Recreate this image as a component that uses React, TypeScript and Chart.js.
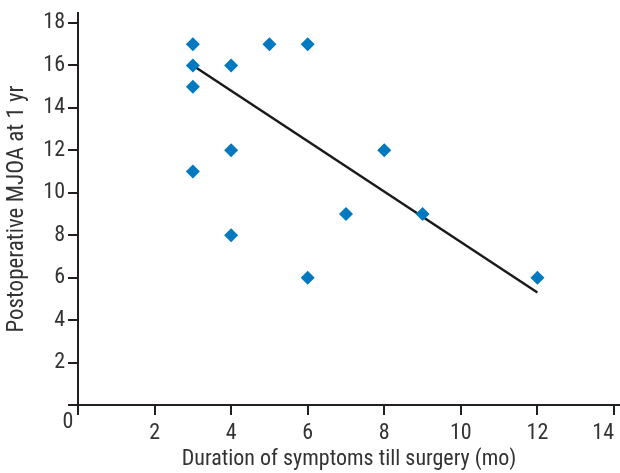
import React, { useEffect, useRef } from "react";
import { Chart, registerables } from "chart.js";

Chart.register(...registerables);

// Data
const durationMonths = [3, 3, 3, 3, 4, 4, 4, 5, 6, 6, 7, 8, 9, 12];
const mjoaOneYear = [17, 16, 15, 11, 16, 12, 8, 17, 17, 6, 9, 12, 9, 6];
const trendX = [3, 12];
const trendY = [16, 5.3];
const xTickValues = [0, 2, 4, 6, 8, 10, 12, 14];
const yTickValues = [0, 2, 4, 6, 8, 10, 12, 14, 16, 18];
const xTitle = "Duration of symptoms till surgery (mo)";
const yTitle = "Postoperative MJOA at 1 yr";

const FONT_FAMILY = '"Roboto Condensed", "Liberation Sans Narrow", "Arial Narrow", "DejaVu Sans Condensed", sans-serif';
const INK = "#231f20";
const TEXT = "#333333";
const POINT_BLUE = "#0079c1";

const originLabelPlugin = {
  id: "originLabel",
  afterDraw(chart: any) {
    const { ctx, scales } = chart;
    const x = scales.x.getPixelForValue(0);
    const y = scales.y.getPixelForValue(0);
    ctx.save();
    ctx.font = `22px ${FONT_FAMILY}`;
    ctx.fillStyle = TEXT;
    ctx.textAlign = "center";
    ctx.textBaseline = "middle";
    ctx.fillText("0", x - 10, y + 17);
    ctx.restore();
  },
};

export default function App() {
  const canvasRef = useRef<HTMLCanvasElement | null>(null);

  useEffect(() => {
    document.body.style.margin = "0";
    const canvas = canvasRef.current;
    if (!canvas) return;

    const scatterData = durationMonths.map((d, i) => ({ x: d, y: mjoaOneYear[i] }));
    const trendData = trendX.map((d, i) => ({ x: d, y: trendY[i] }));

    const chart = new Chart(canvas, {
      type: "scatter",
      data: {
        datasets: [
          {
            type: "scatter",
            data: scatterData,
            pointStyle: "rectRot",
            pointRadius: 7,
            pointHoverRadius: 7,
            backgroundColor: POINT_BLUE,
            borderColor: POINT_BLUE,
            borderWidth: 0,
          } as any,
          {
            type: "line",
            data: trendData,
            borderColor: "#1a1a1a",
            borderWidth: 2.5,
            pointRadius: 0,
            fill: false,
            tension: 0,
          } as any,
        ],
      },
      options: {
        responsive: false,
        animation: false,
        layout: { autoPadding: false, padding: { top: 13, right: 0, bottom: 0, left: 0 } },
        plugins: {
          legend: { display: false },
          tooltip: { enabled: false },
        },
        scales: {
          x: {
            type: "linear",
            min: 0,
            max: 14.157,
            afterBuildTicks: (scale: any) => {
              scale.ticks = xTickValues.map((v) => ({ value: v }));
            },
            afterFit: (scale: any) => {
              scale.height = 68;
              scale.paddingLeft = 0;
              scale.paddingRight = 0;
            },
            grid: {
              display: true,
              drawOnChartArea: false,
              drawTicks: true,
              tickLength: 10,
              color: INK,
              lineWidth: 2,
            },
            border: { display: true, color: INK, width: 2 },
            ticks: {
              autoSkip: false,
              maxRotation: 0,
              align: "inner",
              padding: 5,
              color: TEXT,
              font: { family: FONT_FAMILY, size: 22 },
              callback: (v: any) => (v === 0 ? "" : String(v)),
            },
            title: {
              display: true,
              text: xTitle,
              color: TEXT,
              font: { family: FONT_FAMILY, size: 22 },
              padding: { top: 0, bottom: 0 },
            },
          },
          y: {
            type: "linear",
            min: 0,
            max: 18.47,
            afterBuildTicks: (scale: any) => {
              scale.ticks = yTickValues.map((v) => ({ value: v }));
            },
            afterFit: (scale: any) => {
              scale.width = 78;
              scale.paddingTop = 0;
              scale.paddingBottom = 0;
            },
            grid: {
              display: true,
              drawOnChartArea: false,
              drawTicks: true,
              tickLength: 10,
              color: INK,
              lineWidth: 2,
            },
            border: { display: true, color: INK, width: 2 },
            ticks: {
              autoSkip: false,
              padding: 3,
              color: TEXT,
              font: { family: FONT_FAMILY, size: 22 },
              callback: (v: any) => (v === 0 ? "" : String(v)),
            },
            title: {
              display: true,
              text: yTitle,
              color: TEXT,
              font: { family: FONT_FAMILY, size: 23 },
              padding: { top: 3, bottom: 0 },
            },
          },
        },
      },
      plugins: [originLabelPlugin],
    });

    return () => chart.destroy();
  }, []);

  return (
    <div style={{ position: "absolute", left: 0, top: 0, width: 620, height: 473 }}>
      <canvas ref={canvasRef} width={620} height={473} />
    </div>
  );
}
